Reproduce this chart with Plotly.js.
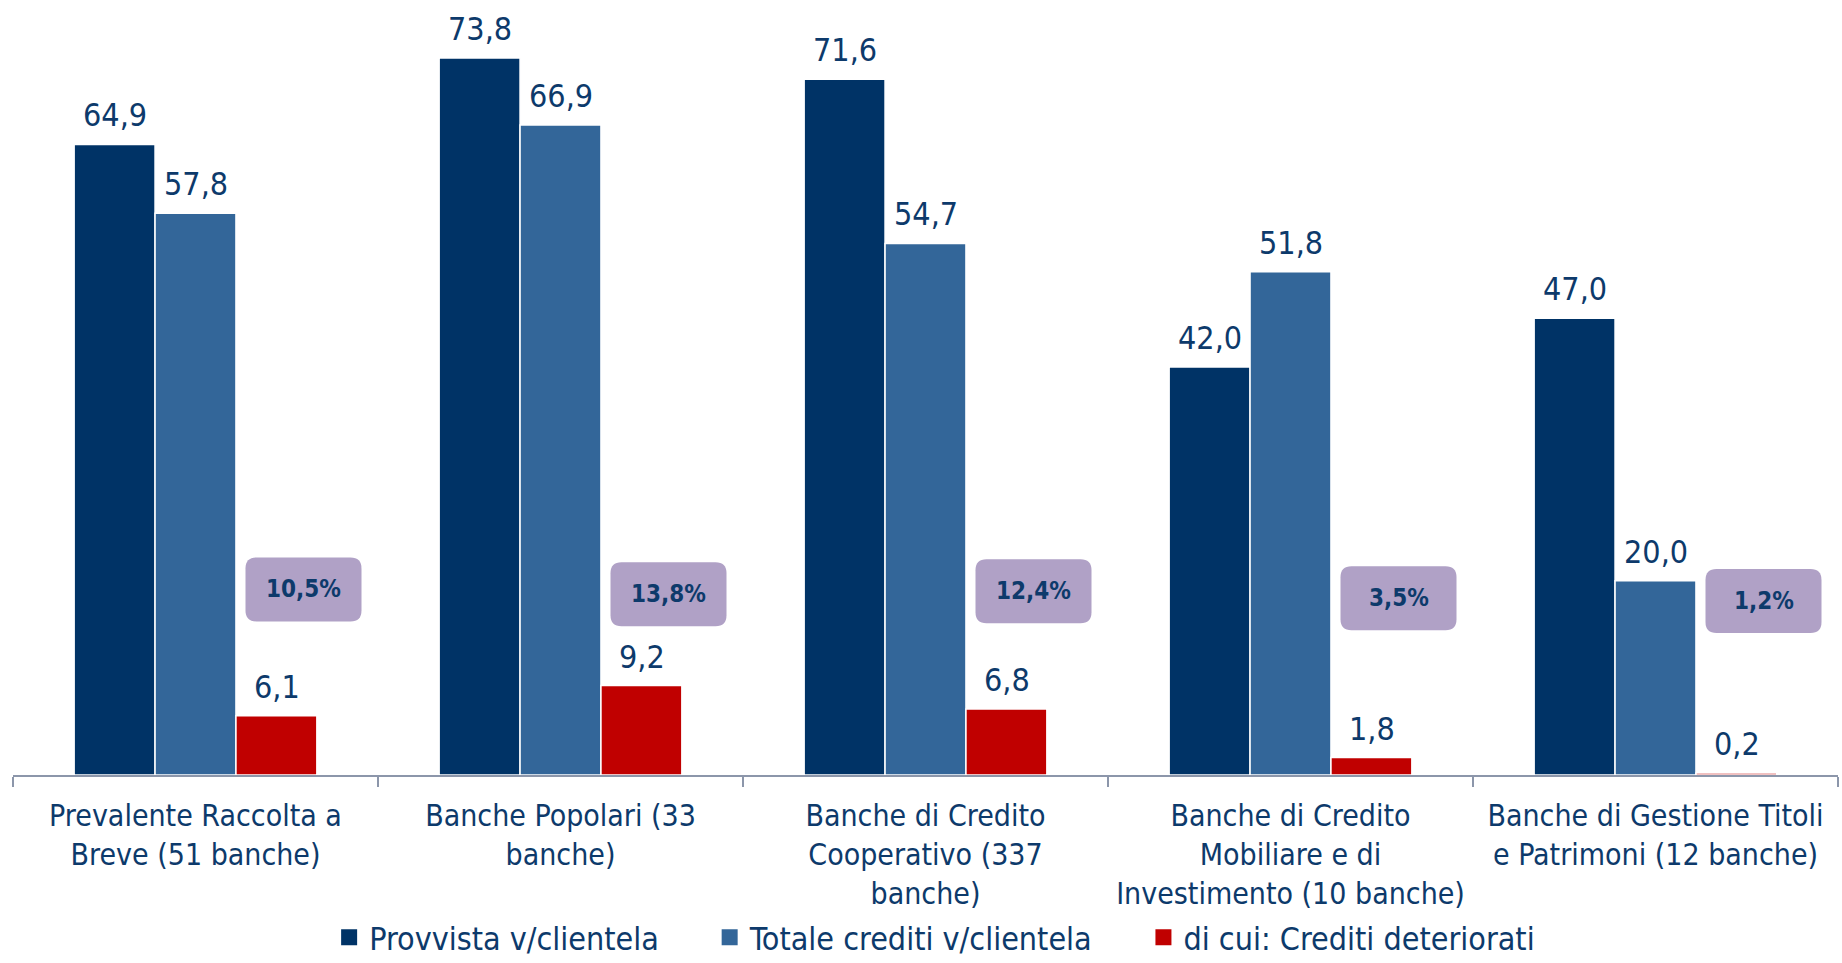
<!DOCTYPE html>
<html>
<head>
<meta charset="utf-8">
<script src="https://cdn.plot.ly/plotly-3.0.1.min.js"></script>
<style>
  html, body { margin: 0; padding: 0; background: #ffffff; }
  #chart { width: 1842px; height: 963px; }
</style>
</head>
<body>
<div id="chart"></div>
<script>
// ---- data ----
const categories = [
  "Prevalente Raccolta a<br>Breve (51 banche)",
  "Banche Popolari (33<br>banche)",
  "Banche di Credito<br>Cooperativo (337<br>banche)",
  "Banche di Credito<br>Mobiliare e di<br>Investimento (10 banche)",
  "Banche di Gestione Titoli<br>e Patrimoni (12 banche)"
];
const seriesNames = ["Provvista v/clientela", "Totale crediti v/clientela", "di cui: Crediti deteriorati"];
const provvista = [64.9, 73.8, 71.6, 42.0, 47.0];
const totaleCrediti = [57.8, 66.9, 54.7, 51.8, 20.0];
const creditiDeteriorati = [6.1, 9.2, 6.8, 1.8, 0.2];
const quotaDeteriorati = ["10,5%", "13,8%", "12,4%", "3,5%", "1,2%"];

// ---- style / layout ----
const FONT = "'DejaVu Sans Condensed', 'DejaVu Sans', sans-serif";
const TEXT = "#0d3a6b";
const colors = ["#003366", "#336699", "#c00000"];
const seriesData = [provvista, totaleCrediti, creditiDeteriorati];
const barOffsetPx = 81;       // pixel distance between bar centres in a group
const boxOffsetPx = 108;      // pixel offset of the percentage boxes from the category centre
const boxYLevels = [19.1, 18.6, 18.9, 18.2, 17.9]; // vertical placement (axis units) of boxes
const legendPad = ["\u00a0\u00a0\u00a0\u00a0\u00a0", "\u00a0\u00a0\u00a0\u00a0\u00a0", ""];

const fmt = v => v.toFixed(1).replace(".", ",");

const traces = seriesData.map((vals, j) => ({
  type: "bar",
  name: seriesNames[j],
  x: categories,
  y: vals,
  showlegend: false,
  marker: { color: colors[j], line: { color: "#ffffff", width: 1.5 } },
  hoverinfo: "skip"
}));
// legend entries with larger square swatches
seriesNames.forEach((n, j) => {
  traces.push({
    type: "scatter", mode: "markers", name: n + legendPad[j],
    x: [null], y: [null], showlegend: true,
    marker: { symbol: "square", size: 16, color: colors[j] },
    hoverinfo: "skip"
  });
});

const annotations = [];
seriesData.forEach((vals, j) => {
  vals.forEach((v, i) => {
    annotations.push({
      x: categories[i], y: v, xref: "x", yref: "y",
      xshift: (j - 1) * barOffsetPx, yshift: 8,
      yanchor: "bottom", xanchor: "center",
      text: fmt(v), showarrow: false,
      font: { family: FONT, size: 32, color: TEXT }
    });
  });
});

const shapes = [];
const hw = 58, hh = 32, r = 11;
const ox = boxOffsetPx;
const rrPath = `M ${ox - hw + r},${-hh} L ${ox + hw - r},${-hh} Q ${ox + hw},${-hh} ${ox + hw},${-hh + r} L ${ox + hw},${hh - r} Q ${ox + hw},${hh} ${ox + hw - r},${hh} L ${ox - hw + r},${hh} Q ${ox - hw},${hh} ${ox - hw},${hh - r} L ${ox - hw},${-hh + r} Q ${ox - hw},${-hh} ${ox - hw + r},${-hh} Z`;
quotaDeteriorati.forEach((t, i) => {
  shapes.push({
    type: "path", xref: "x", yref: "y",
    xsizemode: "pixel", ysizemode: "pixel",
    xanchor: i, yanchor: boxYLevels[i],
    path: rrPath,
    fillcolor: "#b0a1c6", line: { width: 0 }, layer: "above"
  });
  annotations.push({
    x: categories[i], y: boxYLevels[i], xref: "x", yref: "y",
    xshift: boxOffsetPx, showarrow: false,
    text: "<b>" + t + "</b>",
    font: { family: FONT, size: 24, color: TEXT }
  });
});

const layout = {
  width: 1842, height: 963,
  margin: { l: 13, r: 4, t: 20, b: 188, autoexpand: false },
  paper_bgcolor: "#ffffff", plot_bgcolor: "#ffffff",
  barmode: "group", bargap: 0.335, bargroupgap: 0,
  separators: ",.",
  showlegend: true,
  legend: {
    orientation: "h", x: 0.505, xanchor: "center",
    yref: "paper", y: -0.215, yanchor: "middle",
    font: { family: FONT, size: 32, color: TEXT }, itemclick: false, itemdoubleclick: false,
    traceorder: "normal", itemwidth: 30
  },
  xaxis: {
    type: "category",
    showline: true, linecolor: "#8c96aa", linewidth: 2,
    ticks: "outside", tickson: "boundaries", ticklen: 10, tickcolor: "#8c96aa", tickwidth: 2,
    tickangle: 0, ticklabelstandoff: 13,
    tickfont: { family: FONT, size: 30, color: TEXT },
    showgrid: false, zeroline: false, fixedrange: true, automargin: false
  },
  yaxis: {
    range: [0, 77.7], visible: false, showgrid: false, zeroline: false, fixedrange: true
  },
  annotations: annotations,
  shapes: shapes,
  font: { family: FONT, color: TEXT }
};

Plotly.newPlot("chart", traces, layout, { displayModeBar: false, staticPlot: true });
</script>
</body>
</html>
